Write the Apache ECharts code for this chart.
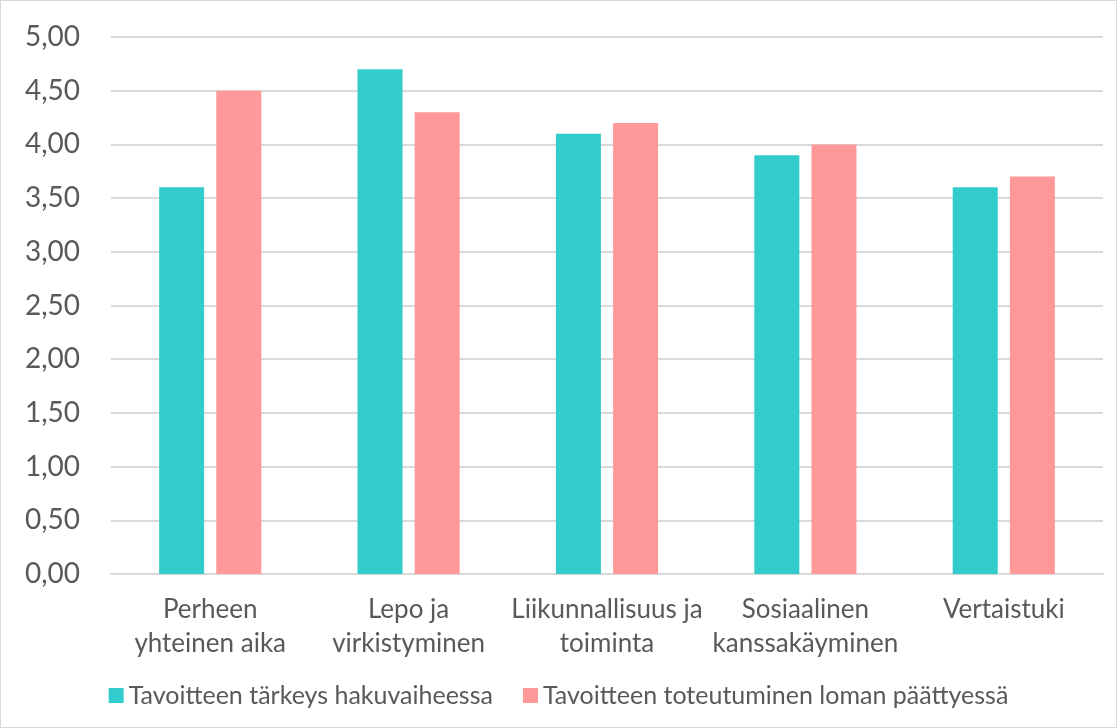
<!DOCTYPE html>
<html>
<head>
<meta charset="utf-8">
<script src="https://cdn.jsdelivr.net/npm/echarts@6/dist/echarts.min.js"></script>
<style>
  html, body { margin: 0; padding: 0; background: #fff; }
  #chart { width: 1117px; height: 728px; box-sizing: border-box; border: 1px solid #d9d9d9; }
</style>
</head>
<body>
<div id="chart"></div>
<script>
// kategoriat ja arvot
const categories = [
  'Perheen\nyhteinen aika',
  'Lepo ja\nvirkistyminen',
  'Liikunnallisuus ja\ntoiminta',
  'Sosiaalinen\nkanssakäyminen',
  'Vertaistuki'
];
const seriesNames = ['Tavoitteen tärkeys hakuvaiheessa', 'Tavoitteen toteutuminen loman päättyessä'];
const importance = [3.6, 4.7, 4.1, 3.9, 3.6];
const realization = [4.5, 4.3, 4.2, 4.0, 3.7];

const chart = echarts.init(document.getElementById('chart'));
const font = 'Lato, "Open Sans", sans-serif';

chart.setOption({
  animation: false,
  textStyle: { fontFamily: font },
  grid: { left: 110, right: 13, top: 36, bottom: 153, containLabel: false },
  legend: {
    bottom: 14,
    left: 'center',
    itemWidth: 15,
    itemHeight: 15,
    itemGap: 30,
    icon: 'rect',
    textStyle: { fontSize: 25, color: '#595959', fontFamily: font },
    data: seriesNames
  },
  xAxis: {
    type: 'category',
    data: categories,
    axisLine: { lineStyle: { color: '#d9d9d9', width: 2 } },
    axisTick: { show: false },
    axisLabel: { color: '#595959', fontSize: 26, lineHeight: 34, margin: 19, interval: 0 }
  },
  yAxis: {
    type: 'value',
    min: 0,
    max: 5,
    interval: 0.5,
    axisLine: { show: false },
    axisTick: { show: false },
    splitLine: { lineStyle: { color: '#d9d9d9', width: 2 } },
    axisLabel: {
      color: '#595959',
      fontSize: 28,
      margin: 31,
      formatter: v => v.toFixed(2).replace('.', ',')
    }
  },
  series: [
    {
      name: seriesNames[0],
      type: 'bar',
      data: importance,
      barWidth: 45,
      barGap: '27%',
      itemStyle: { color: '#33CCCC' }
    },
    {
      name: seriesNames[1],
      type: 'bar',
      data: realization,
      barWidth: 45,
      itemStyle: { color: '#FF9999' }
    }
  ]
});
</script>
</body>
</html>
